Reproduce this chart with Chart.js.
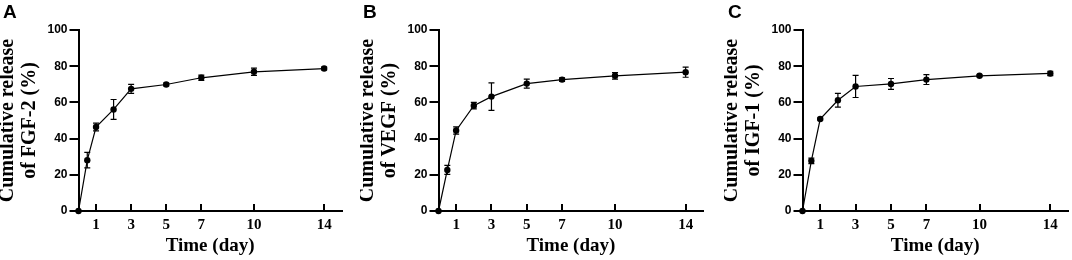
<!DOCTYPE html>
<html>
<head>
<meta charset="utf-8">
<script src="https://cdn.jsdelivr.net/npm/chart.js@4.4.1/dist/chart.umd.min.js"></script>
<style>
  body { margin: 0; background: #fff; }
  #wrap { position: relative; width: 1072px; height: 260px; overflow: hidden; background: #fff; }
  .panel { position: absolute; top: 0; height: 260px; }
  .letter { position: absolute; top: 2px; font: bold 19px "Liberation Sans", Arial, sans-serif; line-height: 19px; color: #000; }
</style>
</head>
<body>
<div id="wrap">
  <div class="panel" style="left:0px;width:360px"><canvas id="chartA" width="360" height="260"></canvas></div>
  <div class="panel" style="left:360px;width:360px"><canvas id="chartB" width="360" height="260"></canvas></div>
  <div class="panel" style="left:724px;width:348px"><canvas id="chartC" width="348" height="260"></canvas></div>
  <div class="letter" style="left:3px">A</div>
  <div class="letter" style="left:363px">B</div>
  <div class="letter" style="left:728px">C</div>
</div>
<script>
// time points (day) and tick labels
const days = [0, 0.5, 1, 2, 3, 5, 7, 10, 14];
const xTicks = [1, 3, 5, 7, 10, 14];
const yTicks = [0, 20, 40, 60, 80, 100];

// cumulative release (%) with SD
const fgf2 = [0, 28.1, 46.4, 56.1, 67.5, 69.9, 73.6, 76.9, 78.7];
const fgf2Err = [0, 4.3, 2.1, 5.5, 2.5, 0.8, 1.5, 2.0, 0.8];
const vegf = [0, 22.7, 44.5, 58.2, 63.2, 70.4, 72.6, 74.7, 76.7];
const vegfErr = [0, 2.5, 2.0, 1.8, 7.6, 2.5, 1.0, 1.8, 2.8];
const igf1 = [0, 27.7, 50.8, 61.2, 68.8, 70.2, 72.6, 74.7, 76.0];
const igf1Err = [0, 1.5, 0.5, 3.8, 6.1, 3.0, 2.7, 0.5, 1.2];

const serif = '"Liberation Serif", "Times New Roman", serif';
const sans = '"Liberation Sans", Arial, sans-serif';

// draws the SD bars through the chart's own scales
const errorBars = {
    id: 'errorBars',
    beforeDatasetsDraw(chart) {
        const ctx = chart.ctx;
        const xs = chart.scales.x, ys = chart.scales.y;
        chart.data.datasets.forEach(ds => {
            ds.data.forEach((p, i) => {
                const e = ds.errors[i];
                if (!e) return;
                const x = xs.getPixelForValue(p.x);
                const y1 = ys.getPixelForValue(p.y + e);
                const y2 = ys.getPixelForValue(p.y - e);
                ctx.save();
                ctx.strokeStyle = '#000';
                ctx.lineWidth = 1.2;
                ctx.beginPath();
                ctx.moveTo(x, y1); ctx.lineTo(x, y2);
                ctx.moveTo(x - 3, y1); ctx.lineTo(x + 3, y1);
                ctx.moveTo(x - 3, y2); ctx.lineTo(x + 3, y2);
                ctx.stroke();
                ctx.restore();
            });
        });
    }
};

function makeChart(id, values, errors, label, rightPad) {
    const ctx = document.getElementById(id).getContext('2d');
    const points = days.map((d, i) => ({ x: d, y: values[i] }));
    return new Chart(ctx, {
        type: 'line',
        data: {
            datasets: [{
                data: points,
                errors: errors,
                borderColor: '#000',
                borderWidth: 1.2,
                pointRadius: 3.2,
                pointBackgroundColor: '#000',
                pointBorderColor: '#000',
                pointBorderWidth: 0,
                tension: 0,
                clip: false
            }]
        },
        options: {
            responsive: false,
            animation: false,
            devicePixelRatio: 1,
            layout: { padding: { left: 0, top: 30, right: rightPad, bottom: 0 } },
            plugins: { legend: { display: false }, tooltip: { enabled: false } },
            scales: {
                x: {
                    type: 'linear',
                    min: 0,
                    max: 15,
                    afterBuildTicks: s => { s.ticks = xTicks.map(v => ({ value: v })); },
                    afterFit: s => { s.height = 49; },
                    border: { color: '#000', width: 2 },
                    grid: { drawOnChartArea: false, tickLength: -7, color: '#000', lineWidth: 2 },
                    ticks: {
                        color: '#000',
                        padding: 12.6,
                        maxRotation: 0,
                        font: { family: serif, size: 15, weight: 'bold' }
                    },
                    title: {
                        display: true,
                        text: 'Time (day)',
                        color: '#000',
                        padding: { top: 0, bottom: 3 },
                        font: { family: serif, size: 19, weight: 'bold', lineHeight: 1.2 }
                    }
                },
                y: {
                    min: 0,
                    max: 100,
                    afterBuildTicks: s => { s.ticks = yTicks.map(v => ({ value: v })); },
                    afterFit: s => { s.width = 78.5; },
                    border: { color: '#000', width: 2 },
                    grid: { drawOnChartArea: false, tickLength: 9, color: '#000', lineWidth: 2 },
                    ticks: {
                        color: '#000',
                        padding: 2,
                        font: { family: sans, size: 12, weight: 'bold' }
                    },
                    title: {
                        display: true,
                        text: ['Cumulative release', label],
                        color: '#000',
                        padding: { top: -2.8, bottom: 0 },
                        font: { family: serif, size: 20, weight: 'bold', lineHeight: 1.1 }
                    }
                }
            }
        },
        plugins: [errorBars]
    });
}

makeChart('chartA', fgf2, fgf2Err, 'of FGF-2 (%)', 18.3);
makeChart('chartB', vegf, vegfErr, 'of VEGF (%)', 16.7);
makeChart('chartC', igf1, igf1Err, 'of IGF-1 (%)', 1.7);
</script>
</body>
</html>
